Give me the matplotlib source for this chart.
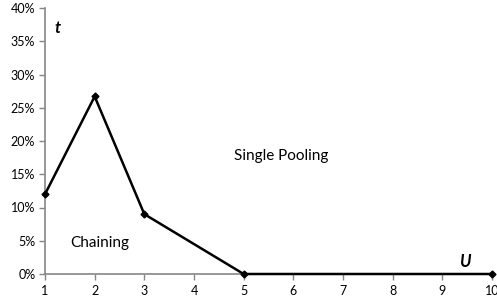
import matplotlib
matplotlib.use("Agg")
import matplotlib.pyplot as plt
from matplotlib.ticker import FuncFormatter

x_vals = [1, 2, 3, 5, 10]
t_vals = [0.12, 0.267, 0.09, 0.0, 0.0]
x_ticks = list(range(1, 11))
y_ticks = [0, 0.05, 0.10, 0.15, 0.20, 0.25, 0.30, 0.35, 0.40]

plt.rcParams['font.family'] = ['Lato', 'DejaVu Sans']

fig = plt.figure(figsize=(4.97, 3.02), dpi=100)
ax = fig.add_axes([45/497, 28/302, 447/497, 266/302])

ax.plot(x_vals, t_vals, color='black', linewidth=1.8, marker='D', markersize=3.5,
        clip_on=False, zorder=5)

ax.set_xlim(1, 10)
ax.set_ylim(0, 0.40)
ax.set_xticks(x_ticks)
ax.set_yticks(y_ticks)
ax.yaxis.set_major_formatter(FuncFormatter(lambda v, p: f"{round(v*100)}%"))

for s in ['top', 'right']:
    ax.spines[s].set_visible(False)
for s in ['left', 'bottom']:
    ax.spines[s].set_color('#868686')
    ax.spines[s].set_linewidth(1.2)
ax.tick_params(axis='both', colors='#868686', labelcolor='black', labelsize=9,
               length=4, width=1)
ax.tick_params(axis='x', pad=4)
ax.tick_params(axis='y', pad=3)

ax.text(1.2, 0.37, 't', fontsize=12, fontweight='bold', fontstyle='italic',
        ha='left', va='center')
ax.text(9.33, 0.018, 'U', fontsize=12, fontweight='bold', fontstyle='italic',
        ha='left', va='center')
ax.text(5.75, 0.177, 'Single Pooling', fontsize=11, ha='center', va='center')
ax.text(2.1, 0.047, 'Chaining', fontsize=11, ha='center', va='center')

fig.savefig('out.png', dpi=100)
